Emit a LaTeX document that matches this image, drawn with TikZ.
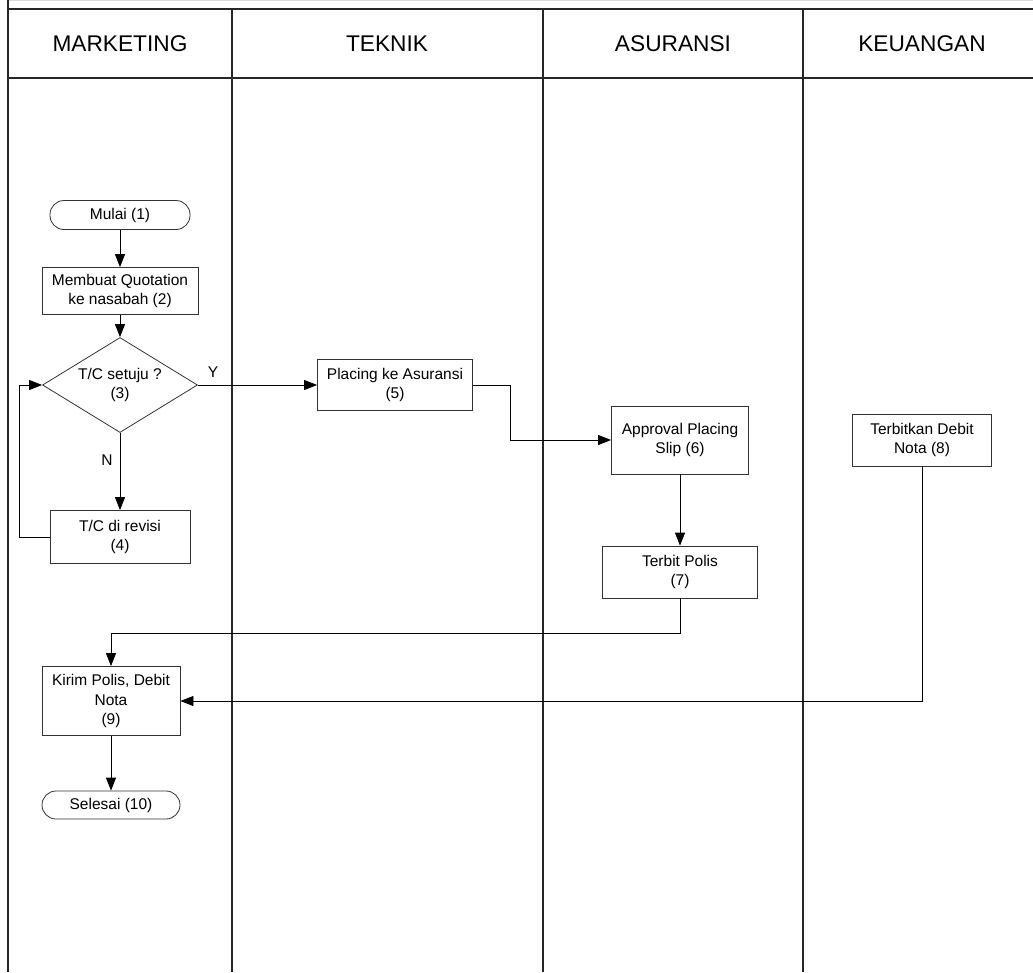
\documentclass[tikz,border=0pt]{standalone}
\usepackage{fontspec}
\setmainfont{Liberation Sans}
\usetikzlibrary{shapes.geometric,arrows.meta}

\begin{document}
\begin{tikzpicture}[x=1pt,y=-1pt,>={Triangle[length=13pt,width=10pt]},
  lane/.style={line width=1.1pt,black!85},
  kepala/.style={font=\fontsize{22.7}{26}\selectfont},
  proses/.style={draw=black!80,line width=0.8pt,align=center,font=\fontsize{15.5}{19.5}\selectfont,inner sep=2pt},
  ujung/.style={proses,rounded corners=14pt},
  keputusan/.style={proses,diamond,aspect=1.63,minimum width=155pt,minimum height=95pt,inner sep=0pt},
  alur/.style={->,line width=0.8pt}]
  \useasboundingbox (0,0) rectangle (1033,972);
  % lajur
  \draw[black!15] (8,0.5) -- (1033,0.5);
  \draw[lane] (8,0) -- (8,972);
  \draw[lane] (8,9) -- (1033,9);
  \draw[lane] (8,78) -- (1033,78);
  \foreach \x in {232,543,803}{
    \draw[lane] (\x,9) -- (\x,972);
  }
  \foreach \x/\nama in {120/MARKETING,387/TEKNIK,673/ASURANSI,922/KEUANGAN}{
    \node[kepala] (k-\nama) at (\x,44) {\nama};
  }

  \node[ujung,minimum width=140pt,minimum height=29pt] (mulai) at (120,215) {Mulai (1)};
  \node[proses,minimum width=156pt,minimum height=47pt] (quotation) at (120,291) {Membuat Quotation\\ke nasabah (2)};
  \node[keputusan] (setuju) at (120,385) {T/C setuju ?\\(3)};
  \node[proses,minimum width=140pt,minimum height=53pt] (revisi) at (120,537) {T/C di revisi\\(4)};
  \node[proses,minimum width=155pt,minimum height=51pt] (placing) at (395,385) {Placing ke Asuransi\\(5)};
  \node[proses,minimum width=137pt,minimum height=68pt] (approval) at (680,440) {Approval Placing\\Slip (6)};
  \node[proses,minimum width=155pt,minimum height=52pt] (polis) at (680,572) {Terbit Polis\\(7)};
  \node[proses,minimum width=139pt,minimum height=52pt] (debit) at (922,440) {Terbitkan Debit\\Nota (8)};
  \node[proses,minimum width=138pt,minimum height=69pt] (kirim) at (111,701) {Kirim Polis, Debit\\Nota\\(9)};
  \node[ujung,minimum width=138pt,minimum height=28pt] (selesai) at (111,805) {Selesai (10)};
  \node[font=\fontsize{15.5}{19.5}\selectfont] (ya) at (213,372) {Y};
  \node[font=\fontsize{15.5}{19.5}\selectfont] (tidak) at (107,460) {N};

  \draw[alur] (mulai) -- (quotation);
  \draw[alur] (quotation) -- (setuju);
  \draw[alur] (setuju.east) -- (placing.west);
  \draw[alur] (setuju) -- (revisi);
  \draw[alur] (revisi.west) -- ++(-30,0) |- (setuju.west);
  \draw[alur] (placing.east) -- ++(37,0) |- (approval.west);
  \draw[alur] (approval) -- (polis);
  \draw[alur] (polis.south) -- ++(0,35) -| (kirim.north);
  \draw[alur] (debit.south) |- (kirim.east);
  \draw[alur] (kirim) -- (selesai);
\end{tikzpicture}
\end{document}
